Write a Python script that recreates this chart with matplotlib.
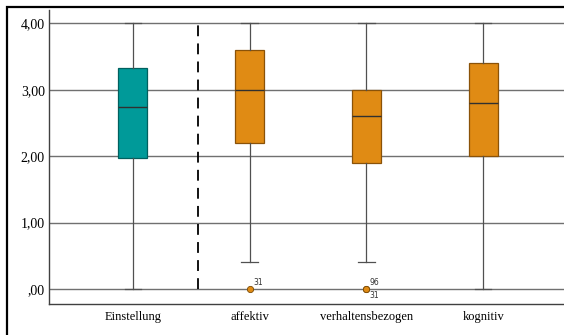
import numpy as np
import matplotlib.pyplot as plt
from matplotlib.patches import Rectangle

categories = ['Einstellung', 'affektiv', 'verhaltensbezogen', 'kognitiv']
whislo = [0.0, 0.4, 0.4, 0.0]
q1 = [1.97, 2.2, 1.9, 2.0]
med = [2.74, 3.0, 2.6, 2.8]
q3 = [3.33, 3.6, 3.0, 3.4]
whishi = [4.0, 4.0, 4.0, 4.0]
fliers = [[], [0.0], [0.0, 0.0], []]
flier_ids = [[], ['31'], ['96', '31'], []]
yticks = [0, 1, 2, 3, 4]
yticklabels = [',00', '1,00', '2,00', '3,00', '4,00']

teal = '#009a99'
orange = '#e08b14'
colors = [teal, orange, orange, orange]
edges = ['#00605f', '#8a5208', '#8a5208', '#8a5208']

fig = plt.figure(figsize=(5.64, 3.35), dpi=100)
ax = fig.add_axes([49/564, 1 - 304/335, (567-49)/564, (304-10)/335])

# outer frame of the exported chart
fig.patches.append(Rectangle((7/564, -0.1), 1.2, 1 - 7/335 + 0.1, transform=fig.transFigure,
                             fill=False, edgecolor='black', linewidth=1.6, zorder=10))

for y in yticks:
    ax.axhline(y, color='#707070', linewidth=1.0, zorder=0)

stats = []
for i in range(len(categories)):
    stats.append(dict(whislo=whislo[i], q1=q1[i], med=med[i], q3=q3[i], whishi=whishi[i],
                      fliers=fliers[i], label=categories[i]))

pos = np.arange(1, len(categories) + 1)
bp = ax.bxp(stats, positions=pos, widths=0.25, patch_artist=True, showfliers=True,
            whiskerprops=dict(color='#505050', linewidth=0.9),
            capprops=dict(color='#505050', linewidth=0.9),
            medianprops=dict(color='#303030', linewidth=1.0),
            flierprops=dict(marker='o', markersize=4.5, markerfacecolor=orange,
                            markeredgecolor='#7a4a05', markeredgewidth=0.6),
            zorder=3)
for patch, c, e in zip(bp['boxes'], colors, edges):
    patch.set_facecolor(c)
    patch.set_edgecolor(e)
    patch.set_linewidth(0.9)
for k, cap in enumerate(bp['caps']):
    cap.set_xdata([pos[k // 2] - 0.07, pos[k // 2] + 0.07])

# outlier case numbers
for i in range(len(categories)):
    for j, (v, lab) in enumerate(zip(fliers[i], flier_ids[i])):
        dy = 4.5 if j == 0 else -5
        ax.annotate(lab, (pos[i], v), xytext=(2.5, dy), textcoords='offset points',
                    fontsize=5.5, family='DejaVu Sans', color='#333333',
                    va='center', ha='left')

ax.plot([1.56, 1.56], [0, 4], linestyle=(0, (6, 4)), color='black', linewidth=1.3, zorder=2)

ax.set_xlim(0.282, 4.718)
ax.set_ylim(-0.226, 4.2)
ax.set_yticks(yticks)
ax.set_yticklabels(yticklabels, family='Liberation Serif', fontsize=10)
ax.set_xticks(pos)
ax.set_xticklabels(categories, family='Liberation Serif', fontsize=9)
ax.tick_params(axis='x', length=0, pad=5)
ax.tick_params(axis='y', length=0, pad=3)
ax.spines['top'].set_visible(False)
ax.spines['right'].set_visible(False)
for s in ['left', 'bottom']:
    ax.spines[s].set_color('#404040')
    ax.spines[s].set_linewidth(1.0)

fig.savefig('out.png', dpi=100)
